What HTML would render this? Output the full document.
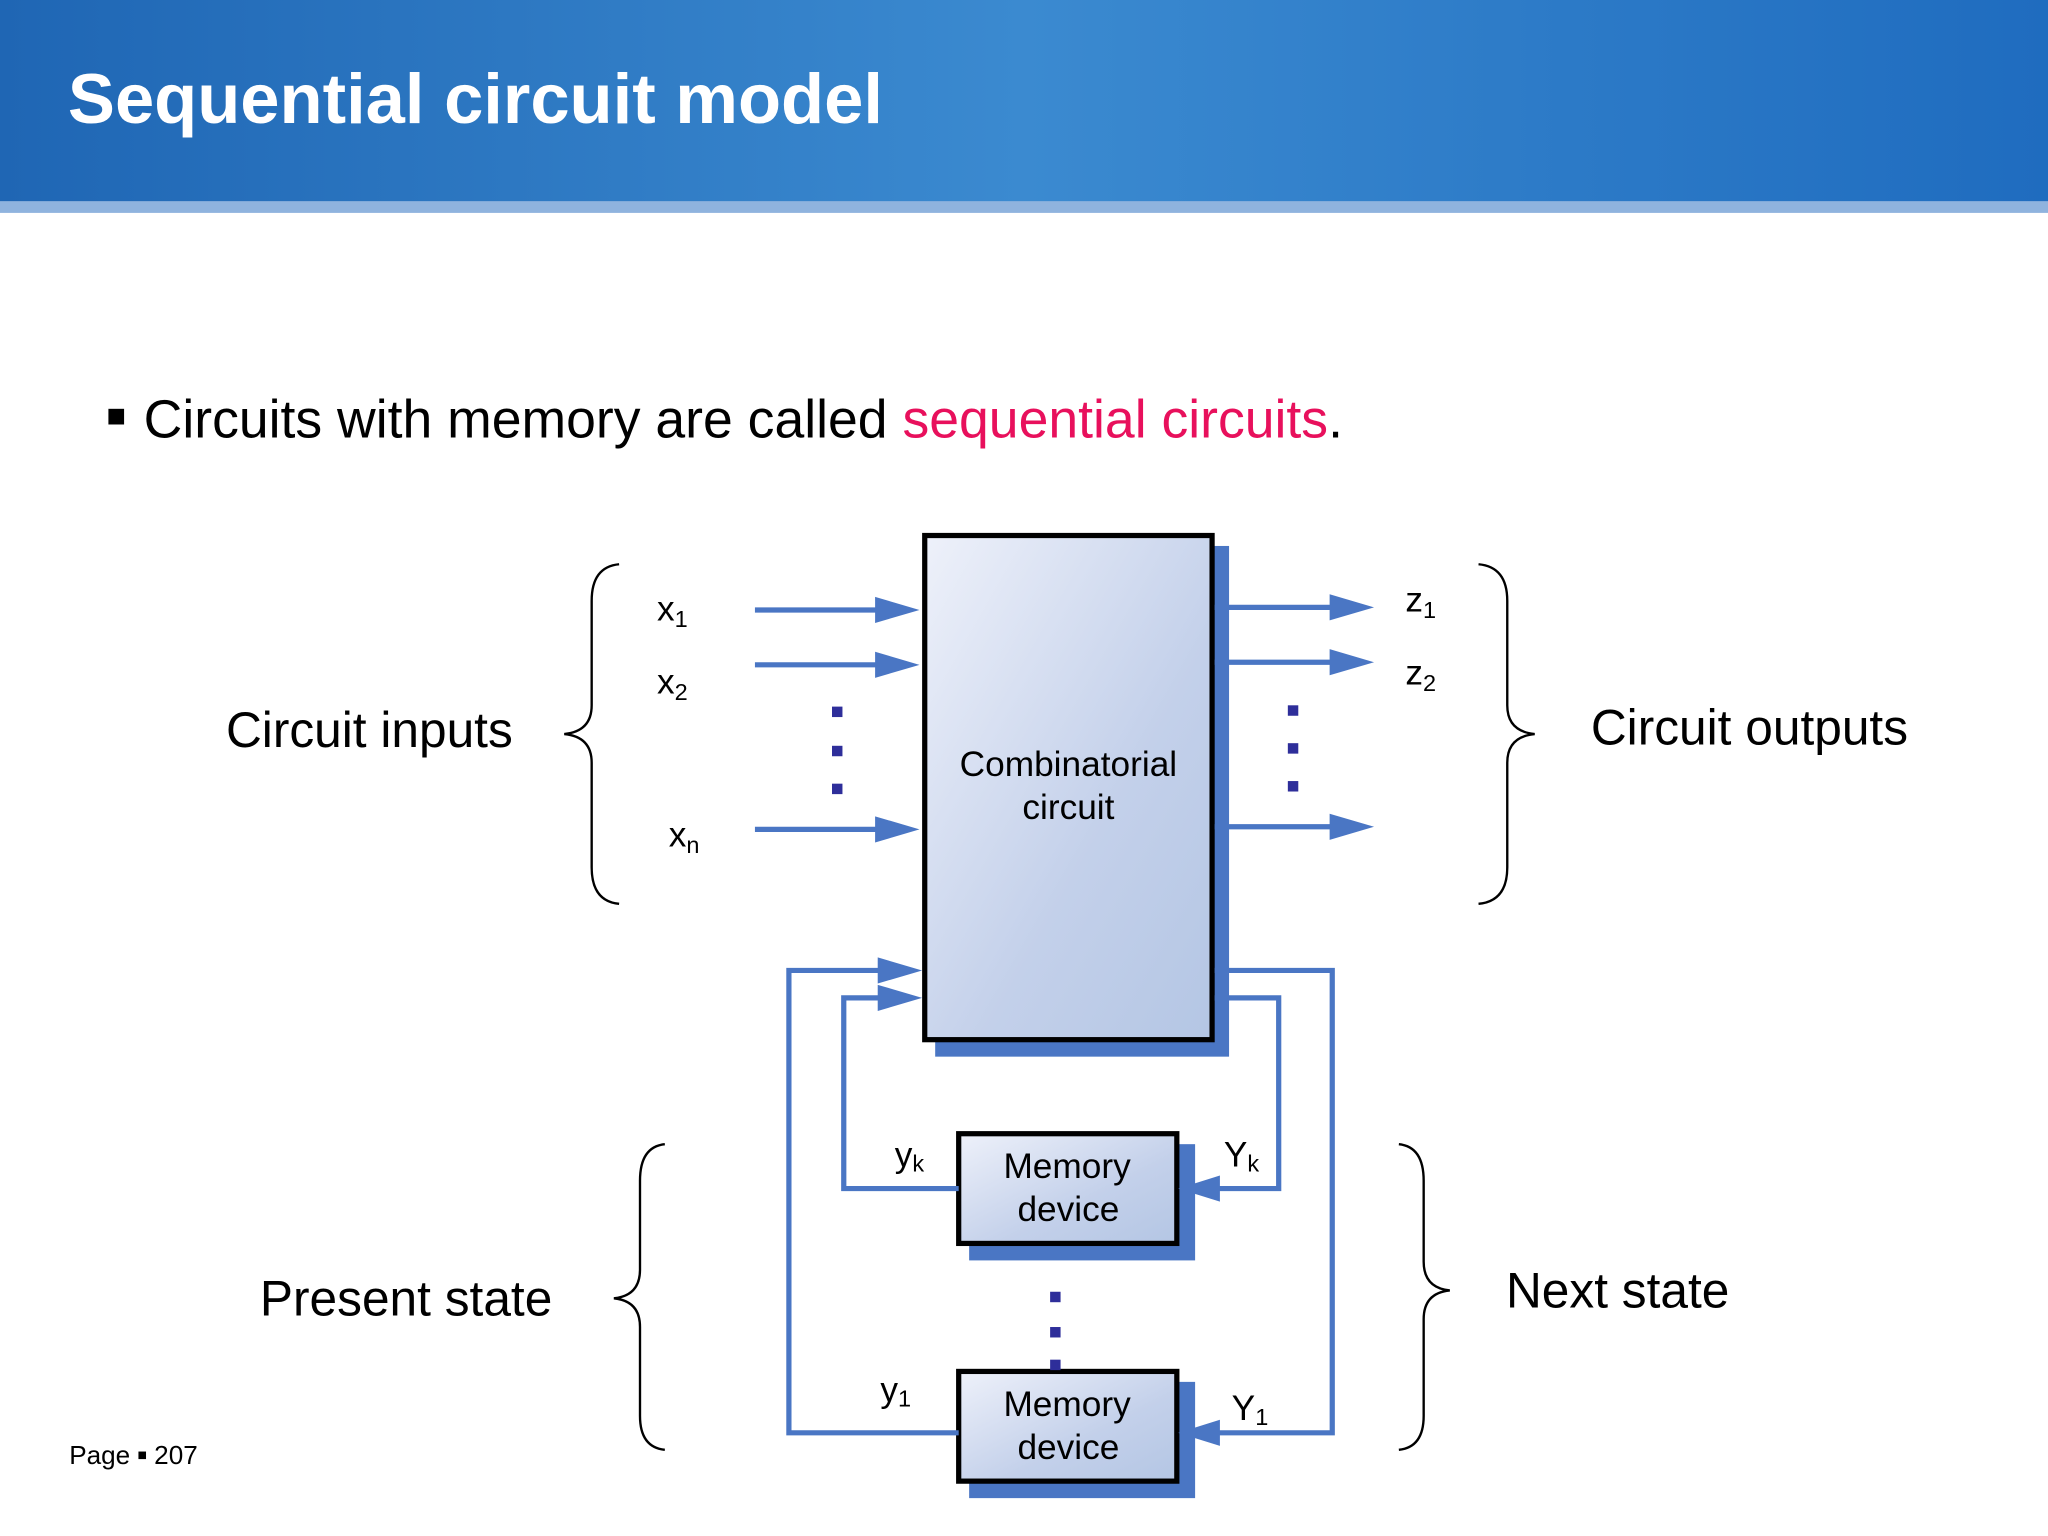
<!DOCTYPE html>
<html><head><meta charset="utf-8"><style>
html,body{margin:0;padding:0;background:#fff;}
svg{display:block;}
text{font-family:"Liberation Sans",Arial,sans-serif;}
</style></head><body>
<svg width="2048" height="1536" viewBox="0 0 1568 1176" xmlns="http://www.w3.org/2000/svg">
<defs>
<linearGradient id="hdr" x1="0" y1="0" x2="1" y2="0">
<stop offset="0" stop-color="#1f66b4"/><stop offset="0.5" stop-color="#3b8ad0"/><stop offset="1" stop-color="#1f6cbf"/>
</linearGradient>
<linearGradient id="box" x1="0" y1="0" x2="1" y2="1">
<stop offset="0" stop-color="#eef1fa"/><stop offset="0.6" stop-color="#c3d0ea"/><stop offset="1" stop-color="#b4c6e4"/>
</linearGradient>
<marker id="ar" viewBox="0 0 10 10" refX="10" refY="5" markerWidth="10" markerHeight="10" markerUnits="userSpaceOnUse" orient="auto">
<path d="M0,0 L10,5 L0,10 z" fill="#4a76c4"/></marker>
</defs>
<rect x="0" y="0" width="1568" height="156" fill="url(#hdr)"/>
<rect x="0" y="154" width="1568" height="9" fill="#8fb3de"/>
<text x="52" y="94" font-size="54" font-weight="bold" fill="#fff">Sequential circuit model</text>
<rect x="83" y="313" width="12" height="12" fill="#000"/>
<text x="110" y="335" font-size="41" fill="#000">Circuits with memory are called <tspan fill="#e8105c">sequential circuits</tspan>.</text>

<g fill="#4a76c4">
<rect x="716" y="418" width="225" height="391"/>
<rect x="742" y="876" width="173" height="89"/>
<rect x="742" y="1058" width="173" height="89"/>
</g>
<rect x="708" y="410" width="220" height="386" fill="url(#box)" stroke="#000" stroke-width="4"/>
<rect x="734" y="868" width="167" height="84" fill="url(#box)" stroke="#000" stroke-width="4"/>
<rect x="734" y="1050" width="167" height="84" fill="url(#box)" stroke="#000" stroke-width="4"/>
<text x="818" y="594" font-size="27" text-anchor="middle">Combinatorial</text>
<text x="818" y="627" font-size="27" text-anchor="middle">circuit</text>
<text x="817" y="902" font-size="27" text-anchor="middle">Memory</text>
<text x="818" y="935" font-size="27" text-anchor="middle">device</text>
<text x="817" y="1084" font-size="27" text-anchor="middle">Memory</text>
<text x="818" y="1117" font-size="27" text-anchor="middle">device</text>

<g stroke="#4a76c4" stroke-width="4" fill="none">
<line x1="578" y1="467" x2="676" y2="467"/>
<line x1="578" y1="509" x2="676" y2="509"/>
<line x1="578" y1="635" x2="676" y2="635"/>
<line x1="930" y1="465" x2="1024" y2="465"/>
<line x1="930" y1="507" x2="1024" y2="507"/>
<line x1="930" y1="633" x2="1024" y2="633"/>
<polyline points="734,910 646,910 646,764 678,764"/>
<polyline points="734,1097 604,1097 604,743 678,743"/>
<polyline points="930,764 979,764 979,910 932,910"/>
<polyline points="930,743 1020,743 1020,1097 932,1097"/>
</g>
<g fill="#4a76c4">
<path d="M670,457 L704,467 L670,477z"/>
<path d="M670,499 L704,509 L670,519z"/>
<path d="M670,625 L704,635 L670,645z"/>
<path d="M1018,455 L1052,465 L1018,475z"/>
<path d="M1018,497 L1052,507 L1018,517z"/>
<path d="M1018,623 L1052,633 L1018,643z"/>
<path d="M672,733 L706,743 L672,753z"/>
<path d="M672,754 L706,764 L672,774z"/>
<path d="M934,900 L902,910 L934,920z"/>
<path d="M934,1087 L902,1097 L934,1107z"/>
</g>
<g fill="#2e2e9a">
<rect x="637" y="541" width="8" height="8"/><rect x="637" y="571" width="8" height="8"/><rect x="637" y="600" width="8" height="8"/>
<rect x="986" y="540" width="8" height="8"/><rect x="986" y="569" width="8" height="8"/><rect x="986" y="598" width="8" height="8"/>
<rect x="804" y="989" width="8" height="8"/><rect x="804" y="1016" width="8" height="8"/><rect x="804" y="1041" width="8" height="8"/>
</g>

<g font-size="27">
<text x="503" y="475">x<tspan font-size="18" dy="5">1</tspan></text>
<text x="503" y="531">x<tspan font-size="18" dy="5">2</tspan></text>
<text x="512" y="648">x<tspan font-size="18" dy="5">n</tspan></text>
<text x="1076" y="468">z<tspan font-size="18" dy="5">1</tspan></text>
<text x="1076" y="524">z<tspan font-size="18" dy="5">2</tspan></text>
<text x="685" y="893">y<tspan font-size="18" dy="4">k</tspan></text>
<text x="674" y="1073">y<tspan font-size="18" dy="4">1</tspan></text>
<text x="937" y="893">Y<tspan font-size="18" dy="4">k</tspan></text>
<text x="943" y="1087">Y<tspan font-size="18" dy="4">1</tspan></text>
</g>
<g font-size="38">
<text x="173" y="572">Circuit inputs</text>
<text x="1218" y="570">Circuit outputs</text>
<text x="199" y="1007">Present state</text>
<text x="1153" y="1001">Next state</text>
</g>
<g stroke="#000" stroke-width="1.8" fill="none">
<path d="M474,432 Q453,434 453,460 L453,540 Q453,560 432,562 Q453,564 453,584 L453,664 Q453,690 474,692"/>
<path d="M1132,432 Q1154,434 1154,460 L1154,540 Q1154,560 1175,562 Q1154,564 1154,584 L1154,664 Q1154,690 1132,692"/>
<path d="M509,876 Q490,878 490,904 L490,972 Q490,992 470,994 Q490,996 490,1016 L490,1084 Q490,1108 509,1110"/>
<path d="M1071,876 Q1090,878 1090,904 L1090,966 Q1090,986 1110,988 Q1090,990 1090,1010 L1090,1084 Q1090,1108 1071,1110"/>
</g>
<text x="53" y="1121" font-size="20">Page <tspan font-size="12" dy="-3">■</tspan><tspan dy="3"> 207</tspan></text>
</svg>
</body></html>
